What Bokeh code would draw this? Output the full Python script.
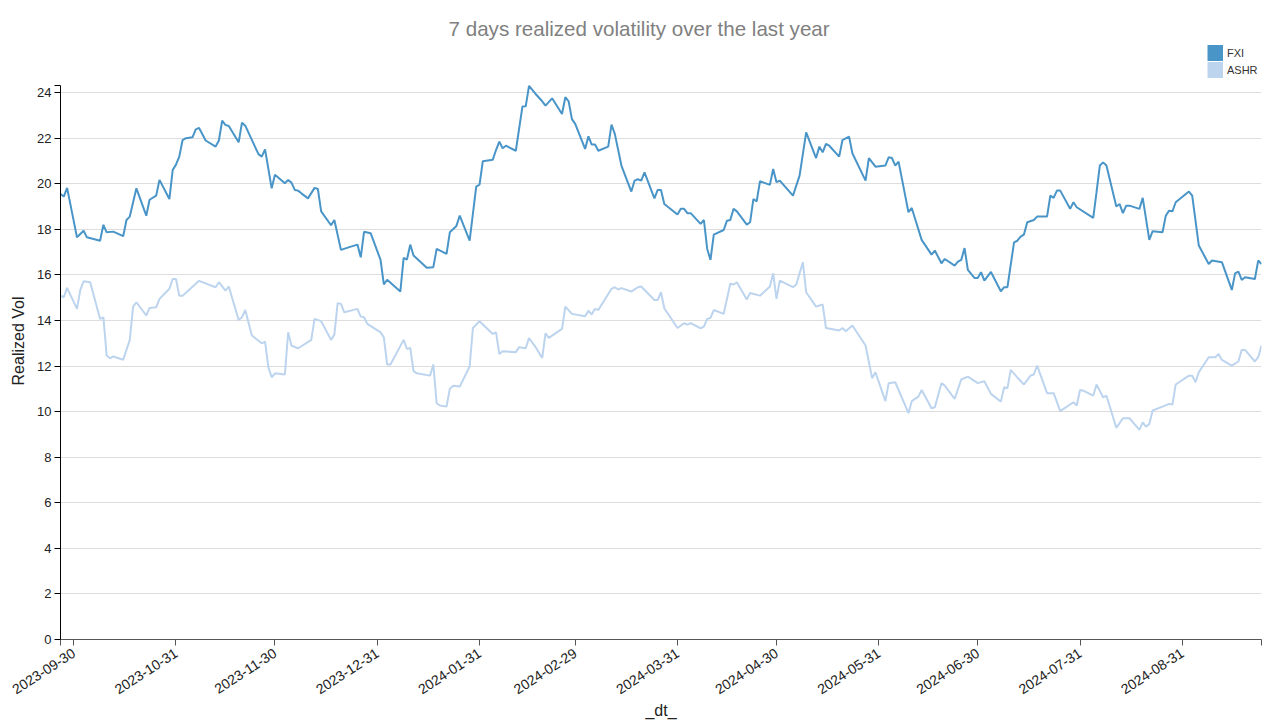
import math
import pandas as pd
from bokeh.plotting import figure
from bokeh.models import (Range1d, FixedTicker, DatetimeTickFormatter, Legend,
                          LegendItem, ColumnDataSource)
from bokeh.embed import file_html
from bokeh.resources import INLINE

# ---------------- data ----------------
title_text = "7 days realized volatility over the last year"
base_date = "2023-09-30"          # day offsets below are counted from this date
x_start, x_end = "2023-09-26", "2024-09-24"
series_names = ["FXI", "ASHR"]

fxi_day = [-4, -3, -2, 1, 3, 4, 8, 9, 10, 12, 15, 16, 17, 19, 22, 23, 25, 26, 29, 30,
           31, 32, 33, 34, 36, 37, 38, 40, 43, 44, 45, 46, 47, 50, 51, 52, 56, 57, 58, 60,
           61, 64, 65, 66, 67, 68, 69, 71, 73, 74, 75, 78, 79, 81, 84, 86, 87, 88, 90, 93,
           94, 95, 99, 100, 101, 102, 103, 107, 109, 110, 113, 114, 116, 117, 120, 122, 123, 124, 127, 128,
           129, 130, 131, 134, 136, 137, 138, 140, 142, 143, 145, 148, 149, 150, 151, 152, 155, 156, 157, 158,
           159, 162, 163, 164, 166, 169, 170, 171, 172, 173, 176, 177, 178, 179, 183, 184, 185, 186, 187, 190,
           191, 192, 193, 194, 197, 198, 199, 200, 201, 204, 205, 206, 207, 208, 211, 212, 213, 214, 218, 220,
           222, 225, 226, 227, 228, 229, 232, 233, 235, 236, 240, 241, 243, 246, 247, 248, 249, 250, 253, 254,
           257, 260, 261, 263, 264, 267, 268, 269, 270, 271, 273, 274, 275, 276, 278, 281, 282, 283, 285, 286,
           287, 288, 289, 291, 292, 295, 296, 297, 298, 299, 302, 303, 304, 309, 310, 311, 312, 313, 316, 317,
           318, 319, 320, 323, 324, 326, 327, 330, 331, 332, 333, 334, 338, 339, 341, 344, 345, 348, 351, 352,
           353, 354, 355, 358, 359, 360]
fxi_vol = [19.55, 19.44, 19.82, 17.65, 17.94, 17.65, 17.50, 18.20, 17.87, 17.90, 17.70, 18.41, 18.56, 19.80, 18.60, 19.30, 19.48, 20.17, 19.33, 20.60,
           20.84, 21.19, 21.92, 22.00, 22.04, 22.39, 22.45, 21.90, 21.63, 21.90, 22.77, 22.58, 22.54, 21.82, 22.68, 22.55, 21.30, 21.19, 21.51, 19.80,
           20.40, 20.02, 20.17, 20.05, 19.73, 19.70, 19.58, 19.36, 19.82, 19.77, 18.79, 18.18, 18.41, 17.10, 17.24, 17.33, 16.77, 17.89, 17.83, 16.66,
           15.58, 15.79, 15.27, 16.75, 16.67, 17.33, 16.85, 16.31, 16.34, 17.14, 16.92, 17.87, 18.15, 18.60, 17.50, 19.88, 19.96, 20.99, 21.05, 21.48,
           21.85, 21.56, 21.67, 21.45, 23.39, 23.40, 24.30, 23.94, 23.62, 23.43, 23.75, 23.06, 23.80, 23.62, 22.84, 22.63, 21.53, 22.08, 21.72, 21.72,
           21.45, 21.63, 22.60, 22.19, 20.80, 19.66, 20.14, 20.20, 20.14, 20.50, 19.36, 19.73, 19.73, 19.11, 18.65, 18.90, 18.90, 18.71, 18.71, 18.24,
           18.41, 17.14, 16.66, 17.77, 17.97, 18.38, 18.41, 18.90, 18.79, 18.21, 18.31, 19.33, 19.23, 20.11, 19.95, 20.65, 20.07, 20.14, 19.48, 20.36,
           22.26, 21.13, 21.63, 21.38, 21.75, 21.67, 21.19, 21.92, 22.07, 21.34, 20.14, 21.13, 20.75, 20.80, 21.16, 21.13, 20.80, 20.97, 18.75, 18.94,
           17.54, 16.89, 17.07, 16.51, 16.70, 16.41, 16.58, 16.66, 17.18, 16.22, 15.87, 15.87, 16.12, 15.75, 16.13, 15.28, 15.46, 15.46, 17.43, 17.50,
           17.68, 17.77, 18.31, 18.41, 18.56, 18.56, 19.48, 19.38, 19.70, 19.70, 18.90, 19.19, 18.97, 18.50, 19.63, 20.80, 20.94, 20.80, 19.00, 19.11,
           18.71, 19.04, 19.04, 18.90, 19.38, 17.54, 17.92, 17.87, 18.60, 18.82, 18.79, 19.19, 19.66, 19.48, 17.29, 16.48, 16.63, 16.56, 15.34, 16.07,
           16.15, 15.78, 15.90, 15.82, 16.63, 16.48]

ashr_day = [-4, -3, -2, 1, 2, 3, 5, 8, 9, 10, 11, 12, 15, 17, 18, 19, 22, 23, 25, 26,
            29, 30, 31, 32, 33, 38, 43, 44, 46, 47, 50, 51, 52, 54, 57, 58, 59, 60, 61, 64,
            65, 66, 68, 69, 72, 73, 75, 78, 79, 80, 81, 82, 86, 87, 88, 89, 93, 94, 95, 96,
            100, 101, 102, 103, 104, 108, 109, 110, 111, 113, 114, 115, 117, 120, 121, 123, 127, 128, 129, 130,
            134, 135, 137, 138, 140, 142, 143, 144, 148, 149, 151, 155, 156, 157, 158, 159, 163, 164, 165, 166,
            169, 171, 172, 176, 177, 178, 179, 183, 185, 186, 187, 190, 191, 192, 193, 194, 197, 199, 200, 201,
            204, 205, 208, 211, 212, 213, 214, 218, 219, 221, 222, 225, 227, 228, 232, 233, 234, 236, 240, 242,
            243, 246, 247, 249, 253, 254, 256, 257, 260, 261, 263, 264, 267, 269, 271, 274, 276, 278, 281, 282,
            283, 284, 286, 288, 290, 291, 292, 295, 297, 299, 303, 304, 305, 306, 309, 310, 312, 313, 316, 318,
            320, 323, 324, 325, 326, 327, 330, 332, 333, 334, 338, 339, 340, 341, 344, 346, 347, 348, 351, 353,
            354, 355, 358, 359, 360]
ashr_vol = [15.09, 15.02, 15.43, 14.51, 15.34, 15.72, 15.68, 14.07, 14.14, 12.46, 12.34, 12.42, 12.28, 13.15, 14.61, 14.80, 14.22, 14.55, 14.58, 14.95,
            15.39, 15.82, 15.82, 15.09, 15.09, 15.74, 15.46, 15.68, 15.31, 15.49, 14.02, 14.14, 14.46, 13.34, 13.00, 13.07, 11.95, 11.51, 11.68, 11.63,
            13.48, 12.90, 12.78, 12.87, 13.15, 14.07, 13.97, 13.15, 13.38, 14.76, 14.73, 14.36, 14.51, 14.17, 14.14, 13.85, 13.48, 13.26, 12.07, 12.07,
            13.15, 12.75, 12.80, 11.78, 11.68, 11.58, 12.07, 10.37, 10.27, 10.22, 11.00, 11.14, 11.10, 11.98, 13.67, 13.97, 13.41, 13.48, 12.53, 12.65,
            12.61, 12.83, 12.78, 13.23, 12.83, 12.36, 13.44, 13.24, 13.63, 14.61, 14.29, 14.19, 14.43, 14.26, 14.51, 14.46, 15.39, 15.46, 15.36, 15.42,
            15.27, 15.46, 15.49, 14.90, 14.90, 15.24, 14.54, 13.67, 13.88, 13.82, 13.88, 13.66, 13.73, 14.07, 14.11, 14.46, 14.29, 15.61, 15.58, 15.68,
            14.92, 15.21, 15.09, 15.49, 16.07, 14.95, 15.75, 15.46, 15.58, 16.56, 15.24, 14.61, 14.70, 13.67, 13.56, 13.67, 13.53, 13.78, 12.90, 11.47,
            11.73, 10.46, 11.25, 11.29, 9.93, 10.46, 10.66, 10.95, 10.15, 10.19, 11.25, 11.14, 10.56, 11.41, 11.54, 11.25, 11.33, 10.78, 10.44, 11.07,
            11.03, 11.83, 11.50, 11.19, 11.58, 11.63, 12.02, 10.81, 10.81, 10.02, 10.41, 10.27, 10.95, 10.92, 10.70, 11.19, 10.63, 10.70, 9.29, 9.71,
            9.71, 9.20, 9.53, 9.34, 9.46, 10.05, 10.22, 10.34, 10.31, 11.19, 11.58, 11.58, 11.29, 11.73, 12.39, 12.39, 12.53, 12.27, 12.02, 12.20,
            12.71, 12.71, 12.20, 12.39, 12.90]

x_tick_labels = ["2023-09-30", "2023-10-31", "2023-11-30", "2023-12-31", "2024-01-31",
                 "2024-02-29", "2024-03-31", "2024-04-30", "2024-05-31", "2024-06-30",
                 "2024-07-31", "2024-08-31"]
y_ticks = [0, 2, 4, 6, 8, 10, 12, 14, 16, 18, 20, 22, 24]
y_max = 24.3          # top of the value axis (data maximum)

# ---------------- styles ----------------
FXI_COLOR = "#4a95c8"
ASHR_COLOR = "#bdd4ee"
FONT = "Liberation Sans"
Y_VIEW_TOP = 26.2     # frame extends above the axis to host the legend
NAN = float("nan")


def to_ms(d):
    return pd.Timestamp(d).value // 10**6


base = pd.Timestamp(base_date)
src_fxi = ColumnDataSource(dict(dt=base + pd.to_timedelta(fxi_day, unit="D"), vol=fxi_vol))
src_ashr = ColumnDataSource(dict(dt=base + pd.to_timedelta(ashr_day, unit="D"), vol=ashr_vol))

p = figure(width=1277, height=721, x_axis_type="datetime",
           x_range=Range1d(pd.Timestamp(x_start), pd.Timestamp(x_end)),
           y_range=Range1d(0, Y_VIEW_TOP),
           output_backend="svg", toolbar_location=None,
           min_border_left=60, min_border_right=16, min_border_top=42, min_border_bottom=82)

p.outline_line_color = None
p.background_fill_color = "white"

# title
p.title.text = title_text
p.title.align = "left"
p.title.offset = 388
p.title.text_font = FONT
p.title.text_font_size = "20.6px"
p.title.text_font_style = "normal"
p.title.text_color = "#808080"
p.title.standoff = 6

# grid
p.xgrid.visible = False
p.ygrid.grid_line_color = "#dddddd"
p.ygrid.grid_line_width = 1.2

# y axis
p.yaxis.bounds = (0, y_max)
p.yaxis.ticker = FixedTicker(ticks=y_ticks, minor_ticks=[y_max])
p.yaxis.axis_line_color = "#000000"
p.yaxis.major_tick_out = 6
p.yaxis.major_tick_in = 0
p.yaxis.minor_tick_out = 6
p.yaxis.minor_tick_in = 0
p.yaxis.minor_tick_line_color = "#000000"
p.yaxis.major_label_text_font = FONT
p.yaxis.major_label_text_font_size = "13px"
p.yaxis.major_label_text_color = "#222222"
p.yaxis.major_label_standoff = 3
p.yaxis.axis_label = "Realized Vol"
p.yaxis.axis_label_text_font = FONT
p.yaxis.axis_label_text_font_size = "16px"
p.yaxis.axis_label_text_font_style = "normal"
p.yaxis.axis_label_text_color = "#222222"
p.yaxis.axis_label_standoff = 7

# x axis
p.xaxis.ticker = FixedTicker(ticks=[to_ms(t) for t in x_tick_labels],
                             minor_ticks=[to_ms(x_start), to_ms(x_end)])
fmt = "%Y-%m-%d"
p.xaxis.formatter = DatetimeTickFormatter(milliseconds=fmt, seconds=fmt, minsec=fmt, minutes=fmt,
                                          hourmin=fmt, hours=fmt, days=fmt, months=fmt, years=fmt)
p.xaxis.axis_line_color = "#555555"
p.xaxis.major_tick_out = 6
p.xaxis.major_tick_in = 0
p.xaxis.major_tick_line_color = "#555555"
p.xaxis.minor_tick_out = 6
p.xaxis.minor_tick_in = 0
p.xaxis.minor_tick_line_color = "#555555"
p.xaxis.major_label_orientation = math.radians(33)
p.xaxis.major_label_text_font = FONT
p.xaxis.major_label_text_font_size = "14px"
p.xaxis.major_label_text_color = "#222222"
p.xaxis.major_label_standoff = 6
p.xaxis.axis_label = "_dt_"
p.xaxis.axis_label_text_font = FONT
p.xaxis.axis_label_text_font_size = "16px"
p.xaxis.axis_label_text_font_style = "normal"
p.xaxis.axis_label_text_color = "#222222"
p.xaxis.axis_label_standoff = 0

# lines
p.line("dt", "vol", source=src_ashr, line_color=ASHR_COLOR, line_width=2)
p.line("dt", "vol", source=src_fxi, line_color=FXI_COLOR, line_width=2)

# legend swatches: legend-only renderers (one NaN row, nothing drawn in the plot)
# drawn in the legend as thick butt-capped strokes = filled squares
sw_fxi = p.line(x=[NAN], y=[NAN], line_color=FXI_COLOR, line_width=16, line_cap="butt")
sw_ashr = p.line(x=[NAN], y=[NAN], line_color=ASHR_COLOR, line_width=16, line_cap="butt")
legend = Legend(items=[LegendItem(label=series_names[0], renderers=[sw_fxi]),
                       LegendItem(label=series_names[1], renderers=[sw_ashr])],
                location=(1147, 561), glyph_width=16, glyph_height=17, label_height=17,
                spacing=0, padding=0, margin=0, border_line_color=None,
                background_fill_alpha=0, label_standoff=4,
                label_text_font=FONT, label_text_font_size="11px", label_text_color="#333333")
p.add_layout(legend, "center")

open("out.html", "w").write(file_html(p, INLINE))
